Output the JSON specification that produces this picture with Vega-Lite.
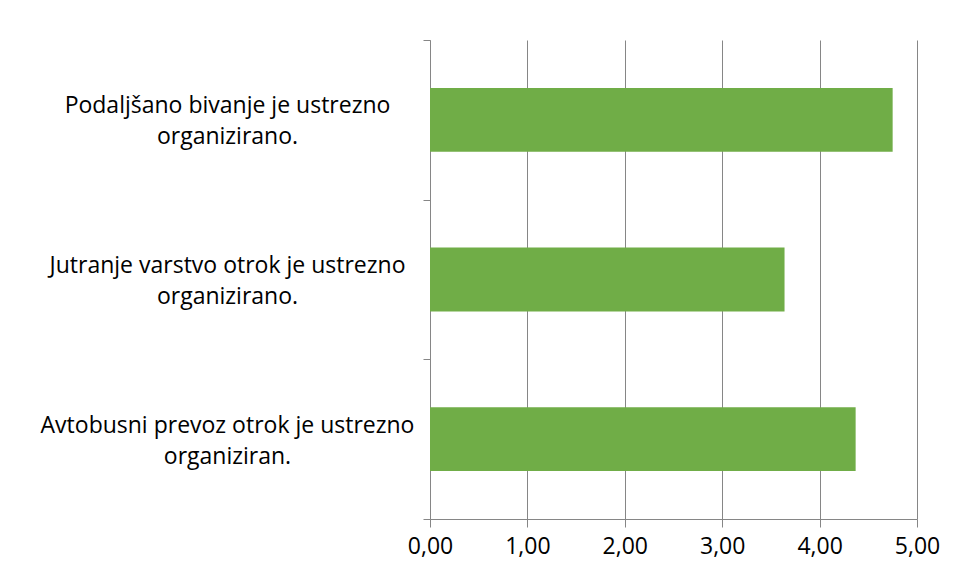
{
  "$schema": "https://vega.github.io/schema/vega-lite/v6.json",
  "width": 487,
  "height": 479,
  "autosize": {"type": "none"},
  "padding": {"left": 430, "top": 40, "right": 42, "bottom": 62},
  "background": "white",
  "config": {
    "view": {"stroke": null},
    "font": "Open Sans"
  },
  "data": {
    "values": [
      {"item": "Podaljšano bivanje je ustrezno|organizirano.", "value": 4.75},
      {"item": "Jutranje varstvo otrok je ustrezno|organizirano.", "value": 3.64},
      {"item": "Avtobusni prevoz otrok je ustrezno|organiziran.", "value": 4.37}
    ]
  },
  "mark": {"type": "bar", "color": "#70AD47", "height": {"band": 0.4}},
  "encoding": {
    "y": {
      "field": "item",
      "type": "nominal",
      "sort": null,
      "title": null,
      "scale": {"paddingInner": 0, "paddingOuter": 0},
      "axis": {
        "domainColor": "#868686",
        "tickColor": "#868686",
        "tickSize": 7,
        "tickBand": "extent",
        "labelExpr": "split(datum.label, '|')",
        "labelFont": "Open Sans",
        "labelFontSize": 23,
        "labelColor": "#000000",
        "labelLineHeight": 31,
        "labelAlign": "center",
        "labelBaseline": "middle",
        "labelOffset": -14,
        "labelPadding": 196,
        "labelLimit": 600
      }
    },
    "x": {
      "field": "value",
      "type": "quantitative",
      "title": null,
      "scale": {"domain": [0, 5], "nice": false},
      "axis": {
        "values": [0, 1, 2, 3, 4, 5],
        "grid": true,
        "gridColor": "#868686",
        "gridWidth": 1,
        "domainColor": "#868686",
        "tickColor": "#868686",
        "tickSize": 8,
        "labelExpr": "replace(format(datum.value, '.2f'), '.', ',')",
        "labelFont": "Open Sans",
        "labelFontSize": 23,
        "labelColor": "#000000",
        "labelPadding": 8,
        "labelFlush": false
      }
    }
  }
}
